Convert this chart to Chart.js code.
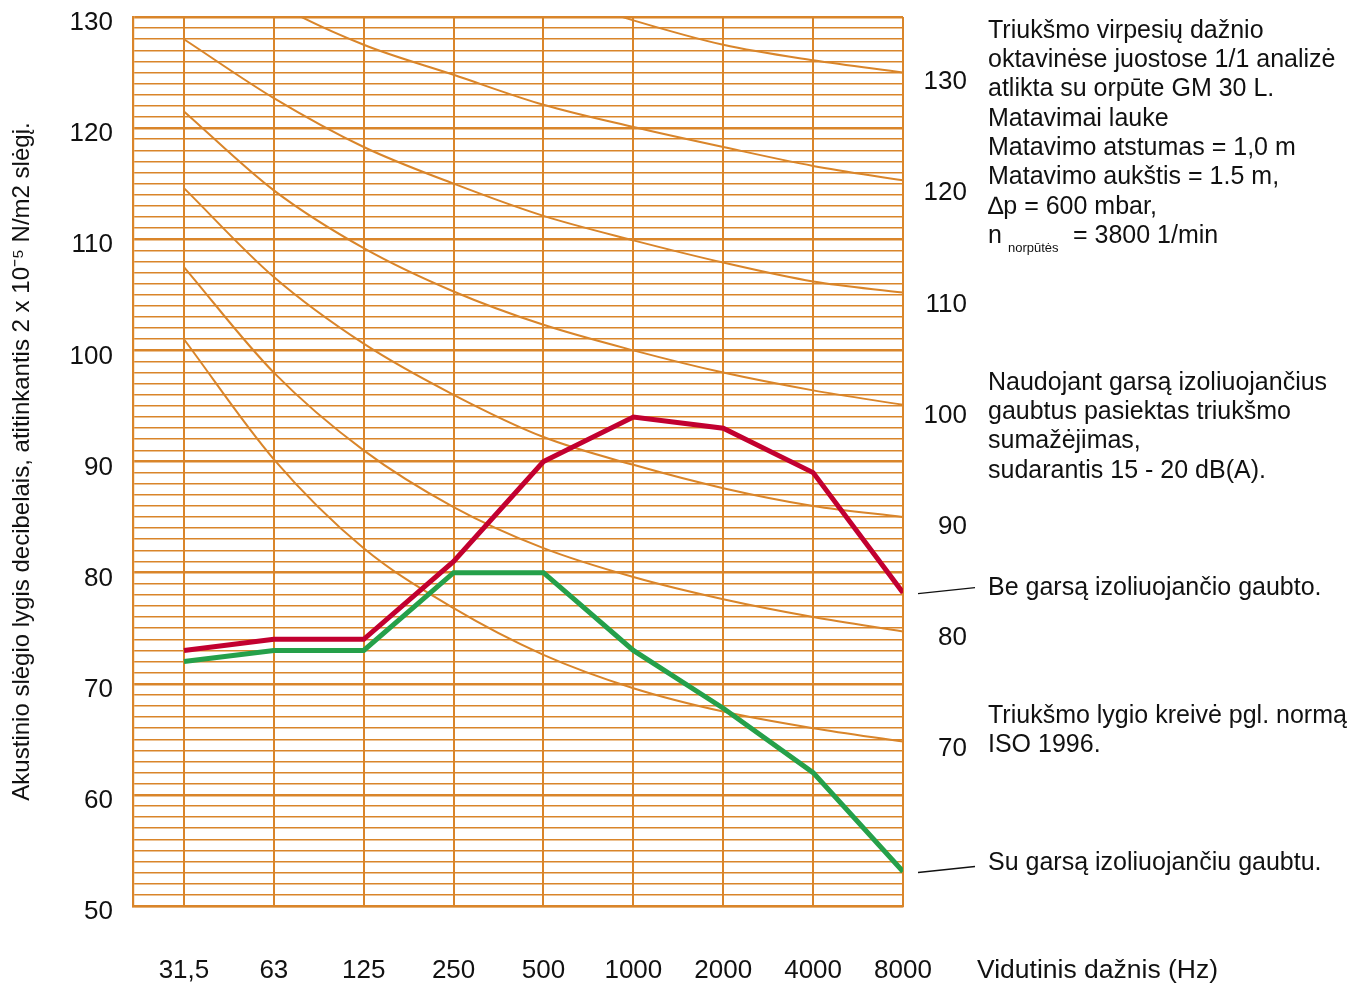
<!DOCTYPE html>
<html>
<head>
<meta charset="utf-8">
<script src="https://cdn.jsdelivr.net/npm/chart.js@4.4.1/dist/chart.umd.min.js"></script>
<style>
body { margin: 0; background: #fff; }
#wrap { width: 1357px; height: 985px; }
</style>
</head>
<body>
<div id="wrap"><canvas id="myChart" width="1357" height="985"></canvas></div>
<script>
// octave bands (Hz)
const bands = ['31,5', '63', '125', '250', '500', '1000', '2000', '4000', '8000'];

// measured levels, dB
const withoutHood = [73, 74, 74, 81, 90, 94, 93, 89, 78.2];
const withHood = [72, 73, 73, 80, 80, 73, 67.8, 62, 53.1];

// noise rating curves (values above 130 run off the top)
const nr70 = [101.0, 90.2, 82.2, 76.8, 72.6, 69.6, 67.5, 66.0, 64.8];
const nr80 = [107.5, 98.0, 91.0, 85.9, 82.2, 79.6, 77.6, 76.0, 74.7];
const nr90 = [114.6, 106.6, 100.6, 96.0, 92.2, 89.7, 87.6, 86.0, 85.0];
const nr100 = [121.5, 114.4, 109.2, 105.3, 102.3, 100.0, 98.0, 96.4, 95.1];
const nr110 = [128.0, 122.7, 118.3, 115.0, 112.1, 109.9, 107.9, 106.2, 105.2];
const nr120 = [136.5, 131.3, 127.5, 124.8, 122.1, 120.1, 118.3, 116.6, 115.3];
const nr130 = [147, 142, 138, 135, 132.3, 129.7, 127.5, 126.1, 125.0];
const nrCurves = [nr70, nr80, nr90, nr100, nr110, nr120, nr130];

// tick labels
const leftTicks = [50, 60, 70, 80, 90, 100, 110, 120, 130];
const rightTicks = [70, 80, 90, 100, 110, 120, 130];

const notesTop = [
  'Triukšmo virpesių dažnio',
  'oktavinėse juostose 1/1 analizė',
  'atlikta su orpūte GM 30 L.',
  'Matavimai lauke',
  'Matavimo atstumas = 1,0 m',
  'Matavimo aukštis = 1.5 m,',
  '∆p = 600 mbar,'
];
const notesMid = [
  'Naudojant garsą izoliuojančius',
  'gaubtus pasiektas triukšmo',
  'sumažėjimas,',
  'sudarantis 15 - 20 dB(A).'
];
const notesLow = ['Triukšmo lygio kreivė pgl. normą', 'ISO 1996.'];

const orange = '#D9852A';
const fontName = '"Liberation Sans", Arial, sans-serif';
Chart.defaults.font.family = fontName;
Chart.defaults.color = '#111';

const toPoints = arr => arr.map((v, i) => ({ x: i, y: v }));

const datasets = [
  { data: toPoints(withoutHood), borderColor: '#C20030', borderWidth: 5, pointRadius: 0, order: 0 },
  { data: toPoints(withHood), borderColor: '#25A04A', borderWidth: 5, pointRadius: 0, order: 0 }
];
nrCurves.forEach(c => {
  datasets.push({
    data: toPoints(c), borderColor: orange, borderWidth: 2, pointRadius: 0,
    cubicInterpolationMode: 'monotone', order: 1
  });
});

// no extra room for the end labels, the layout padding does it
const noPad = s => { s.paddingTop = 0; s.paddingBottom = 0; s.paddingLeft = 0; s.paddingRight = 0; };

const notes = {
  id: 'notes',
  afterDraw(chart) {
    const c = chart.ctx;
    c.save();
    c.fillStyle = '#111';
    c.textBaseline = 'middle';
    c.textAlign = 'left';
    c.font = '25px ' + fontName;
    notesTop.forEach((t, i) => c.fillText(t, 988, 31 + i * 29.3));
    // n with subscript
    c.fillText('n', 988, 236);
    c.font = '13px ' + fontName;
    c.fillText('norpūtės', 1008, 248);
    c.font = '25px ' + fontName;
    c.fillText('= 3800 1/min', 1073, 236);
    notesMid.forEach((t, i) => c.fillText(t, 988, 383 + i * 29.3));
    c.fillText('Be garsą izoliuojančio gaubto.', 988, 588);
    notesLow.forEach((t, i) => c.fillText(t, 988, 716 + i * 29.3));
    c.fillText('Su garsą izoliuojančiu gaubtu.', 988, 863);
    c.font = '26.5px ' + fontName;
    c.fillText('Vidutinis dažnis (Hz)', 977, 971);

    // leader lines to the last points
    const xs = chart.scales.x, ys = chart.scales.y;
    const xEnd = xs.getPixelForValue(bands.length - 1);
    c.strokeStyle = '#111';
    c.lineWidth = 1.5;
    [withoutHood, withHood].forEach(s => {
      const y = ys.getPixelForValue(s[s.length - 1]) + 1;
      c.beginPath();
      c.moveTo(xEnd + 15, y);
      c.lineTo(xEnd + 72, y - 6);
      c.stroke();
    });
    c.restore();
  }
};

const ctx = document.querySelector('#myChart').getContext('2d');
const myChart = new Chart(ctx, {
  type: 'line',
  data: { datasets: datasets },
  options: {
    responsive: false,
    animation: false,
    layout: { padding: { top: 17, right: 390, bottom: 0, left: 0 } },
    plugins: { legend: { display: false }, tooltip: { enabled: false } },
    scales: {
      x: {
        type: 'linear',
        min: -0.567,
        max: bands.length - 1,
        afterBuildTicks: s => { s.ticks = bands.map((b, i) => ({ value: i })); },
        afterFit: s => { s.height = 79; noPad(s); },
        ticks: {
          callback: v => bands[v],
          font: { size: 26 },
          color: '#111',
          padding: 49,
          maxRotation: 0,
          autoSkip: false
        },
        grid: { color: orange, lineWidth: 2, drawTicks: false },
        border: { color: orange, width: 2.2 }
      },
      y: {
        min: 50,
        max: 130,
        afterFit: s => { s.width = 133; noPad(s); },
        ticks: {
          stepSize: 1,
          maxTicksLimit: 100,
          autoSkip: false,
          callback: v => leftTicks.includes(v) ? String(v) : '',
          font: { size: 26 },
          color: '#111',
          padding: 20,
          labelOffset: 6
        },
        grid: {
          color: orange,
          lineWidth: c => (c.tick && c.tick.value % 10 === 0) ? 2.5 : 1.6,
          drawTicks: false
        },
        border: { color: orange, width: 2.2 },
        title: {
          display: true,
          text: 'Akustinio slėgio lygis decibelais, atitinkantis 2 x 10⁻⁵ N/m2 slėgį.',
          font: { size: 24 },
          color: '#111',
          padding: { top: 8, bottom: 0 }
        }
      },
      y2: {
        display: true,
        position: 'right',
        min: 55.5,
        max: 135.5,
        afterBuildTicks: s => { s.ticks = rightTicks.map(v => ({ value: v })); },
        afterFit: s => { s.width = 64; noPad(s); },
        ticks: { font: { size: 26 }, color: '#111', crossAlign: 'far', padding: 21, labelOffset: 4 },
        grid: { display: false },
        border: { display: false }
      }
    }
  },
  plugins: [notes]
});
</script>
</body>
</html>
